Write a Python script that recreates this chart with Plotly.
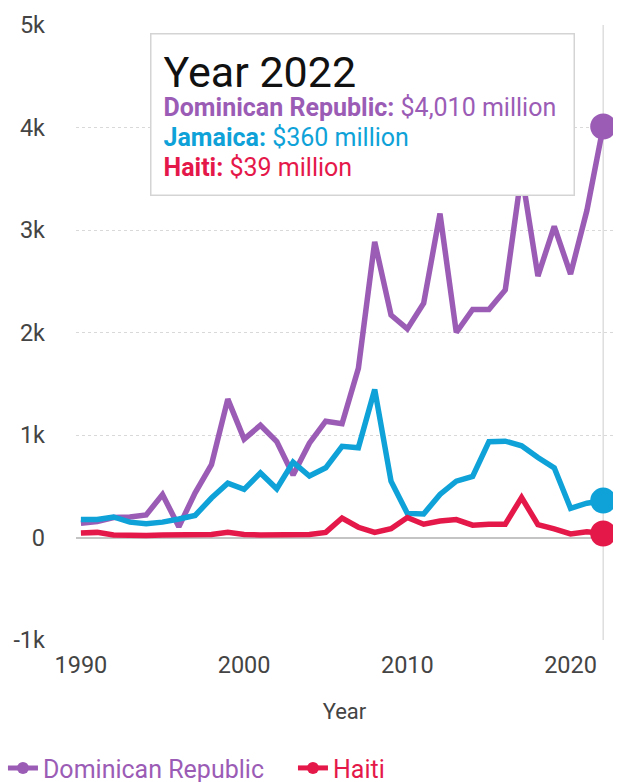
import plotly.graph_objects as go

# Foreign direct investment, net inflows (US$ million)
years = list(range(1990, 2023))

dominican_republic = [140, 155, 195, 200, 220, 420, 105, 435, 710, 1350,
                      960, 1095, 935, 610, 920, 1135, 1110, 1650, 2885, 2170,
                      2035, 2285, 3160, 2000, 2225, 2225, 2415, 3560, 2550, 3035,
                      2570, 3190, 4010]
jamaica = [175, 175, 200, 150, 135, 150, 180, 215, 385, 530,
           470, 630, 475, 735, 600, 680, 890, 875, 1445, 550,
           235, 230, 420, 550, 595, 935, 940, 895, 780, 680,
           285, 335, 360]
haiti = [45, 50, 25, 20, 20, 25, 25, 25, 30, 50,
         30, 25, 25, 30, 30, 50, 190, 100, 50, 85,
         195, 130, 160, 175, 120, 130, 130, 390, 125, 85,
         35, 55, 39]

y_tick_vals = [-1000, 0, 1000, 2000, 3000, 4000, 5000]
y_tick_text = ["-1k", "0", "1k", "2k", "3k", "4k", "5k"]
x_tick_vals = [1990, 2000, 2010, 2020]

COLORS = {
    "Dominican Republic": "#9b5cb6",
    "Jamaica": "#0ea2d8",
    "Haiti": "#e5184a",
}
FONT = "Roboto, 'Noto Sans', sans-serif"

series = [
    ("Dominican Republic", dominican_republic, 1),
    ("Jamaica", jamaica, 3),
    ("Haiti", haiti, 2),
]

fig = go.Figure()
for name, values, rank in series:
    color = COLORS[name]
    # only the highlighted (latest) point gets a visible dot
    sizes = [0] * (len(values) - 1) + [26]
    fig.add_trace(go.Scatter(
        x=years, y=values, name=f"<span style='color:{color}'>{name}</span>",
        mode="lines+markers",
        line=dict(color=color, width=5.5),
        marker=dict(color=color, size=sizes, opacity=1, line=dict(width=0)),
        legendrank=rank,
        hoverinfo="skip",
    ))

last = len(years) - 1
box_text = (
    "<span style='font-size:43px;color:#111'>Year %d</span><br>"
    "<span style='font-size:25px;color:%s'><b>Dominican Republic:</b> $%s million</span><br>"
    "<span style='font-size:25px;color:%s'><b>Jamaica:</b> $%s million</span><br>"
    "<span style='font-size:25px;color:%s'><b>Haiti:</b> $%s million</span>"
) % (
    years[last],
    COLORS["Dominican Republic"], f"{dominican_republic[last]:,}",
    COLORS["Jamaica"], f"{jamaica[last]:,}",
    COLORS["Haiti"], f"{haiti[last]:,}",
)

fig.add_annotation(
    xref="paper", yref="paper", x=0.1378, y=0.987,
    xanchor="left", yanchor="top",
    text=box_text, showarrow=False, align="left", valign="top",
    width=398, height=136,
    bgcolor="white", bordercolor="#d4d4d4", borderwidth=1.5, borderpad=12,
    font=dict(family=FONT, size=23, color="#333"),
)

# vertical guide at the highlighted year
fig.add_shape(
    type="line", xref="x", yref="paper",
    x0=years[last], x1=years[last], y0=0, y1=1,
    line=dict(color="#dedede", width=1.5), layer="below",
)

fig.update_layout(
    width=628, height=782,
    margin=dict(l=76, r=15, t=25, b=142, autoexpand=False),
    paper_bgcolor="white", plot_bgcolor="white",
    font=dict(family=FONT, color="#444"),
    showlegend=True,
    legend=dict(
        orientation="h", xref="paper", x=-0.136, xanchor="left",
        yref="paper", y=-0.171, yanchor="top",
        font=dict(family=FONT, size=25),
        itemsizing="constant", itemwidth=30,
        entrywidth=245, entrywidthmode="pixels",
        bgcolor="rgba(0,0,0,0)",
    ),
)

fig.update_xaxes(
    range=[1989.7, 2022.6],
    tickvals=x_tick_vals,
    tickfont=dict(size=23.5, color="#444"),
    showgrid=False, zeroline=False, showline=False,
    ticks="", ticklabelstandoff=8,
    title=dict(text="Year", font=dict(size=22, color="#444"), standoff=26),
)
fig.update_yaxes(
    range=[-1000, 5000],
    tickvals=y_tick_vals, ticktext=y_tick_text,
    tickfont=dict(size=23.5, color="#444"),
    showgrid=True, gridcolor="#d9d9d9", gridwidth=1, griddash="dot",
    zeroline=True, zerolinecolor="#c4c4c4", zerolinewidth=1.5,
    showline=False, ticks="", ticklabelstandoff=30,
)

fig.write_html("out.html")
